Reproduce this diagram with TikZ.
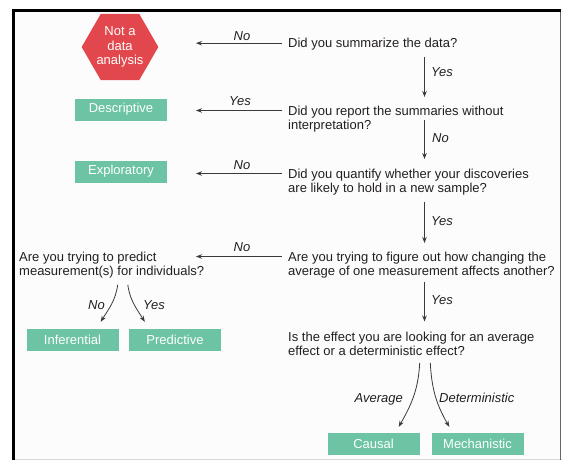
\documentclass[tikz,border=0pt]{standalone}
\usepackage{fontspec}
\setmainfont{Liberation Sans}
\usetikzlibrary{shapes.geometric,arrows.meta,calc}
\definecolor{hexred}{HTML}{E1474C}
\definecolor{boxgreen}{HTML}{6CC4A4}
\definecolor{ink}{HTML}{231F20}
\definecolor{wire}{HTML}{3A3A3A}
% two-line question whose baseline is that of its first line
\newcommand{\qlines}[1]{\begin{tabular}[t]{@{}l@{}}#1\end{tabular}}
\begin{document}
\begin{tikzpicture}[x=1pt,y=1pt,
  every node/.style={font=\fontsize{13}{14}\selectfont, text=ink},
  question/.style={anchor=base west, inner sep=0pt},
  result/.style={fill=boxgreen, text=white, minimum width=92pt, minimum height=22pt, inner sep=0pt},
  stop/.style={regular polygon, regular polygon sides=6, fill=hexred, text=white,
    minimum size=74pt, inner sep=0pt, align=center},
  answer/.style={font=\itshape\fontsize{13}{14}\selectfont, inner sep=0pt,
    text height=9.4pt, text depth=0pt},
  arr/.style={draw=wire, line width=0.8pt, -{Stealth[length=6pt,width=4.5pt]}},
]
\useasboundingbox (0,0) rectangle (562,-460);

% frame
\fill[black!1] (13.5,-10.5) rectangle (560.7,-459.3);
\draw[black!15, line width=1pt] (12,-459.3) -- (562,-459.3);
\draw[black!60, line width=1pt] (560.7,-10) -- (560.7,-460);
\draw[black, line width=3pt] (13.5,-462) -- (13.5,-10.5) -- (561,-10.5);

% guide columns for the connectors
\coordinate (tipcol) at (196,0);
\coordinate (spine) at (424.5,0);

% outcomes
\node[stop] (notda) at (120,-47) {Not a\\[0.5pt]data\\[0.5pt]analysis};
\node[result] (desc) at (121,-109.5) {Descriptive};
\node[result] (expl) at (121,-171.5) {Exploratory};
\node[result] (infer) at (72.5,-340) {Inferential};
\node[result] (pred) at (175,-340) {Predictive};
\node[result] (causal) at (373.5,-444) {Causal};
\node[result] (mech) at (477.5,-444) {Mechanistic};

% questions
\node[question] (q1) at (288,-47.7) {Did you summarize the data?};
\node[question] (q2) at (288,-115) {\qlines{Did you report the summaries without\\interpretation?}};
\node[question] (q3) at (288,-178) {\qlines{Did you quantify whether your discoveries\\are likely to hold in a new sample?}};
\node[question] (q4) at (288,-261) {\qlines{Are you trying to figure out how changing the\\average of one measurement affects another?}};
\node[question] (q5) at (288,-341.5) {\qlines{Is the effect you are looking for an average\\effect or a deterministic effect?}};
\node[question] (q6) at (19,-261) {\qlines{Are you trying to predict\\measurement(s) for individuals?}};

% horizontal branches to the left
\coordinate (h1) at ($(q1.base west)+(-6,4.5)$);
\coordinate (h2) at ($(q2.base west)+(-6,4.5)$);
\coordinate (h3) at ($(q3.base west)+(-6,4.5)$);
\coordinate (h4) at ($(q4.base west)+(-6,4.5)$);
\draw[arr] (h1) -- (h1 -| tipcol);
\draw[arr] (h2) -- (h2 -| tipcol);
\draw[arr] (h3) -- (h3 -| tipcol);
\draw[arr] (h4) -- (h4 -| tipcol);
\node[answer] (l1) at (242,-36) {No};
\node[answer] (l2) at (240,-101) {Yes};
\node[answer] (l3) at (242,-164.5) {No};
\node[answer] (l4) at (242,-247) {No};

% main spine downwards
\draw[arr] ($(q1.base -| spine)+(0,-9.3)$) -- ($(q2.base -| spine)+(0,18)$);
\draw[arr] ($(q2.base -| spine)+(0,-5)$) -- ($(q3.base -| spine)+(0,19)$);
\draw[arr] ($(q3.base -| spine)+(0,-23.5)$) -- ($(q4.base -| spine)+(0,18)$);
\draw[arr] ($(q4.base -| spine)+(0,-20.7)$) -- ($(q5.base -| spine)+(0,20)$);
\node[answer, anchor=west] (v1) at (431,-71.7) {Yes};
\node[answer, anchor=west] (v2) at (432,-138) {No};
\node[answer, anchor=west] (v3) at (431,-220.7) {Yes};
\node[answer, anchor=west] (v4) at (431,-300) {Yes};

% prediction split
\draw[arr] ($(infer.north east)+(-1,44)$) to[out=-98, in=58] ($(infer.north east)+(-18,7)$);
\draw[arr] ($(pred.north west)+(-1,44)$) to[out=-82, in=122] ($(pred.north west)+(16,7)$);
\node[answer, anchor=east] (l5) at (105,-305) {No};
\node[answer, anchor=west] (l6) at (143,-305) {Yes};

% effect split
\draw[arr] ($(causal.north east)+(0,70)$) to[out=-93, in=60] ($(causal.north east)+(-21,6)$);
\draw[arr] ($(mech.north west)+(-1,70)$) to[out=-87, in=120] ($(mech.north west)+(18,6)$);
\node[answer, anchor=east] (l7) at (403,-398) {Average};
\node[answer, anchor=west] (l8) at (439,-398) {Deterministic};
\end{tikzpicture}
\end{document}
